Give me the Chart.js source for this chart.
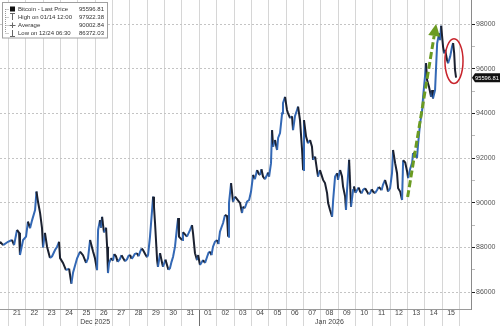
<!DOCTYPE html>
<html>
<head>
<meta charset="utf-8">
<script src="https://cdn.jsdelivr.net/npm/chart.js@4/dist/chart.umd.min.js"></script>
<style>
  html, body { margin: 0; padding: 0; background: #fff; }
  #chart { display: block; }
</style>
</head>
<body>
<canvas id="chart" width="500" height="326"></canvas>
<script>
// time = days since 21 Dec 2025 00:00, price in USD
const TIMES = [
  -0.48, -0.30, -0.02, 0.21, 0.33, 0.50, 0.62, 0.67, 0.85, 1.02,
  1.13, 1.25, 1.37, 1.54, 1.62, 1.71, 1.83, 1.94, 2.00, 2.11,
  2.23, 2.40, 2.52, 2.69, 2.81, 2.92, 2.98, 3.15, 3.32, 3.50,
  3.63, 3.73, 3.96, 4.13, 4.30, 4.48, 4.59, 4.71, 4.88, 4.99,
  5.11, 5.17, 5.28, 5.34, 5.40, 5.51, 5.63, 5.69, 5.74, 5.80,
  5.92, 6.03, 6.10, 6.20, 6.30, 6.43, 6.52, 6.61, 6.72, 6.84,
  6.92, 7.01, 7.10, 7.18, 7.28, 7.41, 7.50, 7.59, 7.68, 7.76,
  7.88, 7.99, 8.05, 8.16, 8.28, 8.34, 8.39, 8.45, 8.57, 8.62,
  8.74, 8.86, 8.91, 9.05, 9.14, 9.22, 9.31, 9.40, 9.49, 9.60,
  9.72, 9.78, 9.83, 10.01, 10.06, 10.29, 10.47, 10.58, 10.64, 10.75,
  10.87, 10.93, 11.04, 11.22, 11.33, 11.45, 11.53, 11.62, 11.70, 11.79,
  11.90, 12.02, 12.10, 12.19, 12.28, 12.37, 12.48, 12.60, 12.66, 12.71,
  12.83, 12.94, 13.06, 13.17, 13.35, 13.46, 13.52, 13.62, 13.75, 13.87,
  13.98, 14.10, 14.20, 14.33, 14.42, 14.50, 14.58, 14.67, 14.78, 14.90,
  14.96, 15.02, 15.13, 15.19, 15.25, 15.36, 15.48, 15.54, 15.65, 15.77,
  15.82, 15.94, 16.05, 16.11, 16.23, 16.34, 16.40, 16.51, 16.63, 16.69,
  16.80, 16.92, 16.98, 17.03, 17.15, 17.26, 17.38, 17.49, 17.55, 17.67,
  17.78, 17.84, 17.95, 18.13, 18.24, 18.36, 18.42, 18.53, 18.65, 18.71,
  18.82, 18.94, 18.99, 19.11, 19.22, 19.28, 19.40, 19.45, 19.51, 19.63,
  19.74, 19.86, 19.91, 20.00, 20.09, 20.18, 20.26, 20.35, 20.43, 20.55,
  20.66, 20.75, 20.84, 20.93, 21.01, 21.12, 21.24, 21.33, 21.41, 21.50,
  21.58, 21.70, 21.81, 21.87, 21.99, 22.10, 22.16, 22.28, 22.39, 22.45,
  22.57, 22.68, 22.74, 22.86, 22.97, 23.03, 23.14, 23.26, 23.31, 23.43,
  23.54, 23.60, 23.72, 23.84, 23.89, 24.00, 24.06, 24.12, 24.23, 24.35,
  24.41, 24.46, 24.58, 24.64, 24.70, 24.81, 24.87, 24.93, 25.04, 25.10,
  25.16, 25.27, 25.33, 25.45, 25.56, 25.62, 25.68, 25.73, 25.79
];
const PRICES = [
  88250, 88100, 88250, 88330, 88100, 88780, 88650, 87660, 88330, 88480,
  89150, 88860, 89220, 89670, 90500, 90040, 89530, 88860, 88000, 88650,
  88030, 87520, 87600, 87880, 88030, 88250, 87520, 87300, 86980, 87050,
  86372.03, 86880, 87510, 87810, 87650, 87300, 87510, 88330, 87810, 87510,
  86980, 88780, 89220, 88880, 89370, 88670, 88880, 88030, 86850, 87290,
  87520, 87410, 87700, 87600, 87350, 87480, 87650, 87520, 87380, 87470,
  87620, 87660, 87480, 87560, 87700, 87740, 87600, 87800, 87950, 87880,
  87700, 87560, 87660, 88480, 89670, 90270, 89820, 89090, 87430, 87130,
  87740, 87290, 87130, 87450, 87210, 87000, 87070, 87350, 87580, 88030,
  88930, 89310, 88480, 88330, 88680, 88480, 88780, 89000, 88630, 87740,
  87430, 87660, 87210, 87430, 87300, 87580, 87750, 87810, 87650, 88030,
  88250, 88330, 88150, 88700, 88900, 89090, 89450, 89400, 88480, 89980,
  90880, 90050, 90270, 90160, 89980, 89540, 89820, 89750, 90050, 90120,
  90500, 91240, 91050, 91460, 91300, 91240, 91500, 91170, 91050, 91240,
  91350, 91170, 91770, 93250, 92510, 92810, 92360, 92900, 93120, 94010,
  94460, 94740, 94150, 94010, 93790, 93870, 93250, 93870, 94150, 94300,
  93700, 92360, 91460, 93700, 92960, 92660, 92810, 92510, 91920, 92060,
  91460, 91170, 91460, 91020, 90880, 90430, 89980, 89670, 89370, 90120,
  91170, 91320, 91020, 91460, 91170, 90720, 90270, 89670, 90570, 91920,
  89820, 90570, 90720, 90450, 90570, 90680, 90500, 90420, 90570, 90650,
  90500, 90380, 90430, 90600, 90500, 90420, 90570, 90700, 90650, 90560,
  90800, 91020, 90720, 90500, 90650, 91320, 92360, 91770, 91320, 90650,
  90500, 90120, 91900, 91800, 91400, 91100, 91500, 91800, 92220, 92200,
  92000, 92600, 93570, 94150, 94740, 95640, 96250, 95490, 95190, 94740,
  95040, 94670, 95040, 96090, 97130, 97580, 97280, 97922.38, 96990, 96690,
  96840, 96390, 96240, 96540, 96990, 97150, 96700, 95940, 95596.81
];

const DAY_LABELS = ['21', '22', '23', '24', '25', '26', '27', '28', '29', '30', '31',
  '01', '02', '03', '04', '05', '06', '07', '08', '09', '10', '11', '12', '13', '14', '15'];
const MONTH_LABELS = ['Dec 2025', 'Jan 2026'];
const Y_TICKS = [86000, 88000, 90000, 92000, 94000, 96000, 98000];

const LEGEND_LABELS = ['Bitcoin - Last Price', 'High on 01/14 12:00', 'Average', 'Low on 12/24 06:30'];
const LEGEND_VALUES = [95596.81, 97922.38, 90002.84, 86372.03];

// annotations, in data units
const ARROW_START = [23.0, 90250];
const ARROW_END = [24.64, 98000];
const RING_CENTER = [25.67, 96340];
const RING_RADIUS = [0.52, 1000];

Chart.defaults.font.family = '"Liberation Sans", Arial, sans-serif';

const lastPrice = PRICES[PRICES.length - 1];

const overlayPlugin = {
  id: 'overlay',
  afterDatasetsDraw(chart) {
    const { ctx, scales: { x, y } } = chart;

    // green dashed arrow
    const x0 = x.getPixelForValue(ARROW_START[0]), y0 = y.getPixelForValue(ARROW_START[1]);
    const x1 = x.getPixelForValue(ARROW_END[0]), y1 = y.getPixelForValue(ARROW_END[1]);
    const ang = Math.atan2(y1 - y0, x1 - x0);
    const headLen = 12, headW = 6;
    const bx = x1 - headLen * Math.cos(ang), by = y1 - headLen * Math.sin(ang);
    ctx.save();
    ctx.strokeStyle = '#6b9b22';
    ctx.fillStyle = '#6b9b22';
    ctx.lineWidth = 3;
    ctx.setLineDash([7, 3]);
    ctx.beginPath();
    ctx.moveTo(x0, y0);
    ctx.lineTo(bx, by);
    ctx.stroke();
    ctx.setLineDash([]);
    ctx.beginPath();
    ctx.moveTo(x1, y1);
    ctx.lineTo(bx + headW * Math.sin(ang), by - headW * Math.cos(ang));
    ctx.lineTo(bx - headW * Math.sin(ang), by + headW * Math.cos(ang));
    ctx.closePath();
    ctx.fill();

    // red ring
    const cx = x.getPixelForValue(RING_CENTER[0]), cy = y.getPixelForValue(RING_CENTER[1]);
    const rx = Math.abs(x.getPixelForValue(RING_CENTER[0] + RING_RADIUS[0]) - cx);
    const ry = Math.abs(y.getPixelForValue(RING_CENTER[1] + RING_RADIUS[1]) - cy);
    ctx.strokeStyle = '#c8242c';
    ctx.lineWidth = 1.5;
    ctx.beginPath();
    ctx.ellipse(cx, cy, rx, ry, 0, 0, Math.PI * 2);
    ctx.stroke();
    ctx.restore();
  },
  afterDraw(chart) {
    const { ctx, chartArea, scales: { y } } = chart;
    ctx.save();

    // legend box
    ctx.fillStyle = '#fff';
    ctx.fillRect(2.5, 2.5, 105, 35.5);
    ctx.strokeStyle = '#a0a0a0';
    ctx.lineWidth = 1;
    ctx.strokeRect(2.5, 2.5, 105, 35.5);
    const rows = [9, 17, 25, 33];
    ctx.strokeStyle = '#9a9a9a';
    ctx.setLineDash([1, 1]);
    ctx.beginPath();
    ctx.moveTo(5.5, rows[0]);
    ctx.lineTo(5.5, rows[3]);
    rows.forEach((r) => { ctx.moveTo(5.5, r + 0.5); ctx.lineTo(9, r + 0.5); });
    ctx.stroke();
    ctx.setLineDash([]);
    ctx.fillStyle = '#111';
    ctx.fillRect(10, rows[0] - 2.5, 5, 5);
    ctx.strokeStyle = '#666';
    ctx.beginPath();
    ctx.moveTo(10, rows[1] - 3.5); ctx.lineTo(15, rows[1] - 3.5);
    ctx.moveTo(12.5, rows[1] - 3.5); ctx.lineTo(12.5, rows[1] + 3);
    ctx.moveTo(9.5, rows[2] + 0.5); ctx.lineTo(15.5, rows[2] + 0.5);
    ctx.moveTo(12.5, rows[2] - 2.5); ctx.lineTo(12.5, rows[2] + 3);
    ctx.moveTo(12.5, rows[3] - 3); ctx.lineTo(12.5, rows[3] + 3.5);
    ctx.moveTo(10, rows[3] + 3.5); ctx.lineTo(15, rows[3] + 3.5);
    ctx.stroke();
    ctx.font = '6px "Liberation Sans", Arial, sans-serif';
    ctx.fillStyle = '#333';
    ctx.textBaseline = 'middle';
    LEGEND_LABELS.forEach((label, i) => {
      ctx.textAlign = 'left';
      ctx.fillText(label, 18, rows[i] + 0.5);
      ctx.textAlign = 'right';
      ctx.fillText(LEGEND_VALUES[i].toFixed(2), 104, rows[i] + 0.5);
    });

    // last price tag on the axis
    const yp = y.getPixelForValue(lastPrice);
    const left = chartArea.right + 1;
    ctx.fillStyle = '#111';
    ctx.beginPath();
    ctx.moveTo(left, yp);
    ctx.lineTo(left + 3, yp - 4.5);
    ctx.lineTo(500, yp - 4.5);
    ctx.lineTo(500, yp + 4.5);
    ctx.lineTo(left + 3, yp + 4.5);
    ctx.closePath();
    ctx.fill();
    ctx.fillStyle = '#fff';
    ctx.textAlign = 'left';
    ctx.fillText(lastPrice.toFixed(2), left + 3, yp + 0.5, 500 - left - 4);
    ctx.restore();
  }
};

function dayTicks(scale) {
  const ticks = [];
  for (let d = 0; d <= DAY_LABELS.length; d++) {
    ticks.push({ value: d });
    if (d < DAY_LABELS.length) ticks.push({ value: d + 0.5 });
  }
  scale.ticks = ticks;
}

function priceTicks(scale) {
  const ticks = [];
  Y_TICKS.forEach((v, i) => {
    ticks.push({ value: v });
    if (i < Y_TICKS.length - 1) ticks.push({ value: v + 1000 });
  });
  scale.ticks = ticks;
}

const janStart = DAY_LABELS.indexOf('01');
const isMajor = (v) => Y_TICKS.includes(v);

new Chart(document.getElementById('chart'), {
  type: 'line',
  data: {
    datasets: [{
      label: 'Bitcoin',
      data: TIMES.map((t, i) => ({ x: t, y: PRICES[i] })),
      borderColor: '#1b2130',
      borderWidth: 2,
      pointRadius: 0,
      tension: 0,
      segment: {
        borderColor: (c) => (c.p1.parsed.y >= c.p0.parsed.y ? '#3368b5' : '#1b2130'),
      },
    }],
  },
  options: {
    responsive: false,
    animation: false,
    devicePixelRatio: 1,
    layout: { padding: 0 },
    plugins: {
      legend: { display: false },
      tooltip: { enabled: false },
    },
    scales: {
      x: {
        type: 'linear',
        position: 'bottom',
        min: -0.48,
        max: 26.65,
        afterBuildTicks: dayTicks,
        afterFit: (s) => { s.height = 17; s.paddingLeft = 0; s.paddingRight = 0; },
        grid: {
          color: (c) => (Number.isInteger(c.tick.value) ? '#d6d6d6' : 'rgba(0,0,0,0)'),
          tickColor: (c) => {
            if (c.tick.value === janStart) return '#6f6f6f';
            return Number.isInteger(c.tick.value) ? '#d6d6d6' : 'rgba(0,0,0,0)';
          },
          tickLength: 17,
        },
        border: { display: true, color: '#9a9a9a' },
        ticks: {
          autoSkip: false,
          maxRotation: 0,
          padding: -17,
          color: '#444',
          font: { size: 7, lineHeight: 1.2 },
          callback: (v) => {
            if (v === 5) return ['', MONTH_LABELS[0]];
            if (Number.isInteger(v)) return '';
            const lab = DAY_LABELS[Math.floor(v)];
            return v === 18.5 ? [lab, MONTH_LABELS[1]] : lab;
          },
        },
      },
      y: {
        type: 'linear',
        position: 'right',
        min: 85240,
        max: 99075,
        afterBuildTicks: priceTicks,
        afterFit: (s) => { s.width = 29; s.paddingTop = 0; s.paddingBottom = 0; },
        grid: {
          color: (c) => (isMajor(c.tick.value) ? '#c4c4c4' : 'rgba(0,0,0,0)'),
          tickColor: (c) => (isMajor(c.tick.value) ? '#222' : '#bbb'),
          tickLength: 4,
        },
        border: { display: true, color: '#8a8a8a', dash: [2, 2] },
        ticks: {
          padding: 1,
          color: '#555',
          font: { size: 7 },
          callback: (v) => (isMajor(v) ? String(v) : ''),
        },
      },
    },
  },
  plugins: [overlayPlugin],
});
</script>
</body>
</html>
